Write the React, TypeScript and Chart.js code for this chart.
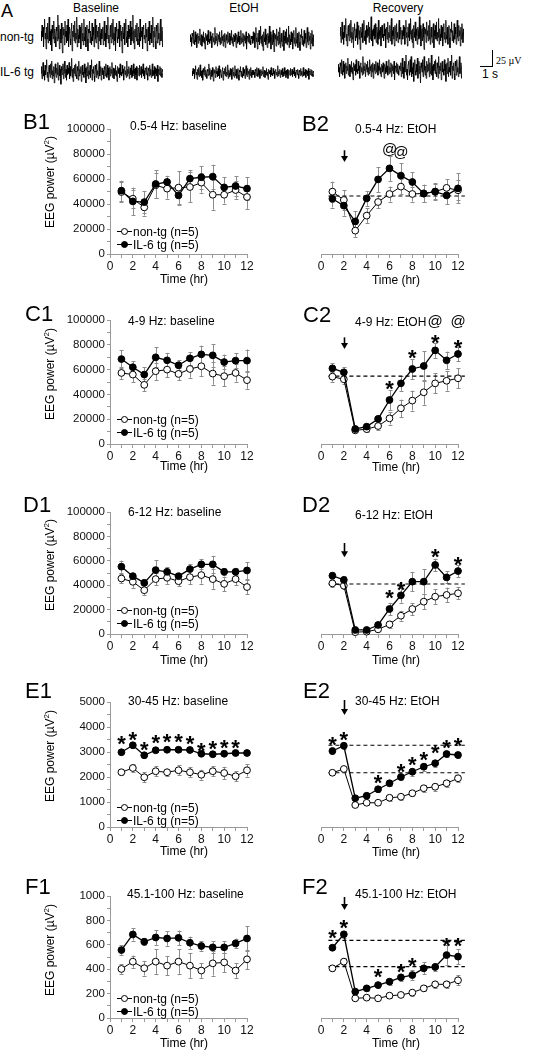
import React, { useEffect, useRef } from 'react';
import { Chart, registerables } from 'chart.js';

Chart.register(...registerables);

const FONT = '"Liberation Sans", Arial, Helvetica, sans-serif';
Chart.defaults.font.family = FONT;

// ---------- Data ----------
const hours = [1, 2, 3, 4, 5, 6, 7, 8, 9, 10, 11, 12];

// B: 0.5-4 Hz
const b1NonTg = [49600, 44200, 37300, 55000, 52300, 53100, 53600, 57100, 47400, 47400, 51200, 45600];
const b1NonTgErr = [8000, 7000, 6500, 10000, 8000, 13000, 12000, 8000, 12000, 7000, 7000, 9500];
const b1Tg = [50700, 42100, 41500, 56000, 57600, 46900, 60300, 61400, 61900, 53300, 54400, 52300];
const b1TgErr = [8000, 11000, 9000, 11000, 5000, 8000, 7000, 9000, 9500, 8000, 8000, 9000];

const b2NonTg = [49900, 43200, 18700, 30700, 41600, 48000, 53900, 48000, 48500, 49900, 52900, 51000];
const b2NonTgErr = [8000, 8000, 5000, 6000, 5000, 6000, 6000, 6000, 7000, 6000, 7000, 8000];
const b2Tg = [44200, 38700, 26100, 44500, 59700, 68500, 62700, 57600, 48300, 49900, 46900, 52500];
const b2TgErr = [7000, 8000, 8000, 6000, 10000, 10000, 10000, 8000, 7000, 7000, 7000, 12000];
const b2Dashed = [46400];
const b2Ats = [{ x: 6, y: 83000 }, { x: 7, y: 80600 }];

// C: 4-9 Hz
const c1NonTg = [57300, 56000, 47700, 58700, 60000, 56500, 60500, 62700, 56800, 54700, 57300, 51500];
const c1NonTgErr = [5000, 6000, 5000, 7000, 6000, 5000, 7000, 8000, 9000, 8000, 7000, 7000];
const c1Tg = [68500, 61900, 56000, 69900, 67500, 63500, 69100, 72300, 71500, 66100, 67200, 67200];
const c1TgErr = [7000, 5000, 6000, 8000, 6000, 4000, 5000, 7000, 9000, 6000, 6000, 9000];

const c2NonTg = [54300, 52200, 11000, 12000, 14500, 20700, 28800, 35000, 41700, 48900, 51000, 53000];
const c2NonTgErr = [4000, 4000, 1000, 2000, 3000, 5000, 7000, 8000, 10000, 8000, 8000, 8000];
const c2Tg = [61000, 57800, 12100, 14000, 20200, 35500, 48900, 60500, 62900, 75500, 67500, 72600];
const c2TgErr = [4000, 4000, 2000, 2000, 3000, 8000, 6000, 8000, 12000, 6000, 7000, 6000];
const c2Dashed = [54800];
const c2Stars = [{ x: 6, y: 49000 }, { x: 8, y: 74000 }, { x: 10, y: 86000 }, { x: 12, y: 82000 }];
const c2Ats = [{ x: 10, y: 98500 }, { x: 12, y: 98500 }];

// D: 6-12 Hz
const d1NonTg = [45500, 42800, 35900, 45000, 46100, 43300, 46600, 48300, 45000, 41100, 45000, 38500];
const d1NonTgErr = [4000, 5000, 4000, 5000, 5000, 4000, 6000, 7000, 8000, 6000, 5000, 6000];
const d1Tg = [55200, 47400, 41900, 52400, 51000, 47400, 53200, 57100, 57100, 51000, 51000, 52100];
const d1TgErr = [5000, 3000, 3000, 8000, 4000, 3000, 4000, 4000, 7000, 3000, 3000, 7000];

const d2NonTg = [41500, 39600, 1500, 1900, 3800, 7900, 15000, 20500, 26500, 30600, 32000, 33400];
const d2NonTgErr = [3000, 3000, 500, 1000, 1500, 3000, 4000, 5000, 6000, 6000, 6000, 5000];
const d2Tg = [47800, 44300, 3300, 3300, 7400, 20500, 31700, 42900, 42900, 56600, 46400, 51600];
const d2TgErr = [3000, 3000, 800, 800, 2500, 5000, 6000, 8000, 10000, 5000, 5000, 5000];
const d2Dashed = [41000];
const d2Stars = [{ x: 6, y: 33900 }, { x: 7, y: 40700 }, { x: 10, y: 67500 }, { x: 12, y: 61200 }];

// E: 30-45 Hz
const e1NonTg = [2190, 2360, 1990, 2230, 2190, 2270, 2190, 2090, 2230, 2160, 2030, 2270];
const e1NonTgErr = [100, 150, 200, 200, 150, 200, 200, 200, 200, 250, 200, 250];
const e1Tg = [2990, 3270, 2870, 3070, 3090, 3090, 3080, 2930, 2910, 2930, 2960, 2960];
const e1TgErr = [80, 100, 120, 80, 60, 80, 80, 60, 60, 60, 60, 60];
const e1Stars = [
  { x: 1, y: 3550 }, { x: 2, y: 3710 }, { x: 3, y: 3320 }, { x: 4, y: 3570 }, { x: 5, y: 3640 },
  { x: 6, y: 3610 }, { x: 7, y: 3550 }, { x: 8, y: 3280 }, { x: 9, y: 3350 }, { x: 10, y: 3370 }, { x: 11, y: 3370 },
];

const e2NonTg = [2170, 2320, 880, 970, 970, 1170, 1210, 1350, 1550, 1610, 1750, 1950];
const e2NonTgErr = [60, 100, 80, 100, 100, 120, 120, 120, 130, 150, 150, 150];
const e2Tg = [3040, 3250, 1150, 1250, 1510, 1750, 2000, 2210, 2410, 2550, 2920, 2880];
const e2TgErr = [120, 120, 80, 80, 100, 100, 120, 150, 150, 150, 120, 100];
const e2Dashed = [3270, 2170];
const e2Stars = [
  { x: 1, y: 3520 }, { x: 2, y: 3720 }, { x: 5, y: 2000 }, { x: 7, y: 2440 }, { x: 8, y: 2720 },
  { x: 9, y: 2920 }, { x: 10, y: 3200 }, { x: 11, y: 3400 }, { x: 12, y: 3480 },
];

// F: 45.1-100 Hz
const f1NonTg = [402, 462, 408, 462, 429, 462, 429, 389, 448, 456, 389, 481];
const f1NonTgErr = [40, 50, 60, 100, 80, 100, 100, 60, 100, 80, 60, 80];
const f1Tg = [557, 685, 625, 660, 652, 657, 617, 590, 579, 579, 611, 652];
const f1TgErr = [40, 50, 30, 60, 60, 60, 50, 40, 50, 50, 40, 100];

const f2NonTg = [407, 462, 161, 167, 161, 183, 189, 208, 243, 276, 276, 309];
const f2NonTgErr = [20, 30, 15, 15, 15, 20, 20, 25, 25, 30, 30, 40];
const f2Tg = [576, 686, 216, 243, 270, 298, 333, 352, 407, 418, 516, 503];
const f2TgErr = [20, 30, 15, 20, 20, 25, 30, 40, 50, 30, 80, 60];
const f2Dashed = [637, 421];
const f2Stars = [
  { x: 1, y: 697 }, { x: 2, y: 781 }, { x: 5, y: 380 }, { x: 7, y: 420 }, { x: 8, y: 475 }, { x: 11, y: 639 }, { x: 12, y: 639 },
];

// ethanol injection arrow (hr 2)
const arrowB2 = { x: 2, top: 83000, bottom: 73600 };
const arrowC2 = { x: 2, top: 86000, bottom: 76600 };
const arrowD2 = { x: 2, top: 74600, bottom: 63000 };
const arrowE2 = { x: 2, top: 5080, bottom: 4480 };
const arrowF2 = { x: 2, top: 992, bottom: 885 };

const dashRange = [0.65, 12.6];

// EEG sample traces (arbitrary units)
const eegA = [
  2, -3, 5, -1, 4, -6, 3, 8, -2, 1, -7, 4, -2, 6, -4, 0, 9, -3, 2, -5,
  3, -8, 5, 1, -2, 7, -4, 3, -1, -6, 4, 2, -3, 10, -2, 5, -7, 1, 3, -4,
  6, -2, -9, 4, 0, 3, -5, 7, -1, 2, -4, 5, -3, 8, -6, 1, 4, -2, -5, 3,
  6, -8, 2, -1, 5, -3, 7, -4, 1, -2, 9, -6, 3, 0, -4, 5, -2, 4, -7, 2,
  6, -3, 1, -5, 8, -1, -3, 4, -6, 2, 5, -2, -8, 3, 1, 7, -4, 2, -1, -5,
  6, -3, 4, 0, -6, 3, 8, -2, -4, 5, -1, 2, -7, 4, -3, 6, 1, -5, 3, -2,
];
const eegB = [
  -1, 4, -5, 2, 7, -3, 1, -6, 5, -2, 3, 9, -4, 0, -7, 3, 5, -1, -4, 6,
  -2, 8, -5, 1, -3, 4, -8, 2, 6, -1, -4, 3, -2, 7, -6, 0, 5, -3, 2, -9,
  4, 1, -2, 6, -5, 3, 8, -1, -4, 2, -6, 5, -2, 3, -1, 7, -5, 4, -3, 1,
  10, -4, 2, -7, 3, -1, 5, -3, 6, -2, -5, 4, 1, -6, 8, -3, 2, -1, 4, -7,
  3, 5, -2, 0, -4, 6, -1, 3, -8, 2, 4, -3, 7, -5, 1, -2, 5, -4, 3, 9,
  -6, 2, -1, 4, -3, -7, 5, 2, -4, 6, -2, 1, -5, 3, 8, -3, 0, 4, -6, 2,
];
const eegC = [
  3, -2, 1, -5, 4, 2, -3, 6, -1, -4, 5, -2, 3, -6, 1, 4, -3, 2, -1, 7,
  -4, 0, 3, -5, 2, -2, 5, -3, 1, -7, 4, 2, -1, 3, -4, 6, -2, 0, -3, 5,
  -1, 2, -6, 3, 4, -2, 1, -4, 8, -3, 2, -1, 4, -5, 0, 3, -2, 5, -4, 1,
  -3, 6, -1, 2, -5, 3, -2, 4, -6, 1, 3, -1, -3, 5, -2, 0, 4, -4, 2, -1,
  6, -3, 1, -5, 3, 2, -2, 4, -1, -6, 3, 1, -3, 5, -2, 2, -4, 0, 6, -3,
  1, -2, 4, -5, 3, -1, 2, -3, 5, -7, 2, 1, -2, 4, -3, 3, -1, -4, 2, 0,
];
const traceBaseNonTg = [...eegA, ...eegB];
const traceBaseTg = [...eegB, ...eegC];
const traceEtohNonTg = [...eegC, ...eegA];
const traceEtohTg = [...eegA, ...eegC];
const traceRecNonTg = [...eegB, ...eegA];
const traceRecTg = [...eegC, ...eegB];

const legendNonTg = 'non-tg (n=5)';
const legendTg = 'IL-6 tg (n=5)';

// ---------- Components ----------
type Pt = { x: number; y: number };
interface PanelSpec {
  side: 'L' | 'R';
  yTop: number;
  yBot: number;
  ymax: number;
  step: number;
  labelStep: number;
  nonTg: number[];
  nonTgErr: number[];
  tg: number[];
  tgErr: number[];
  dashed?: number[];
  stars?: Pt[];
  ats?: Pt[];
  arrow?: { x: number; top: number; bottom: number };
}

const PAD_TOP = 44;
const XAX_H = 28;

function Plot({ spec }: { spec: PanelSpec }) {
  const ref = useRef<HTMLCanvasElement>(null);
  const isL = spec.side === 'L';
  const left = isL ? 0 : 270;
  const width = isL ? 262 : 200;
  const padLeft = isL ? 0 : 51;
  const padRight = isL ? 15 : 12;
  const top = spec.yTop - PAD_TOP;
  const height = PAD_TOP + (spec.yBot - spec.yTop) + XAX_H;

  useEffect(() => {
    const canvas = ref.current!;
    const datasets: any[] = [
      {
        data: hours.map((h, i) => ({ x: h, y: spec.tg[i] })),
        borderColor: '#000',
        borderWidth: 1.3,
        pointRadius: 3.4,
        pointBackgroundColor: '#000',
        pointBorderColor: '#000',
        pointBorderWidth: 1,
        clip: false,
      },
      {
        data: hours.map((h, i) => ({ x: h, y: spec.nonTg[i] })),
        borderColor: '#000',
        borderWidth: 1,
        pointRadius: 3.4,
        pointBackgroundColor: '#fff',
        pointBorderColor: '#000',
        pointBorderWidth: 1,
        clip: false,
      },
    ];
    (spec.dashed || []).forEach((v) => {
      datasets.push({
        data: [
          { x: dashRange[0], y: v },
          { x: dashRange[1], y: v },
        ],
        borderColor: '#000',
        borderWidth: 1.2,
        borderDash: [4, 3],
        pointRadius: 0,
        clip: false,
      });
    });

    const extras = {
      id: 'extras',
      beforeDatasetsDraw(chart: any) {
        const ctx = chart.ctx;
        const xs = chart.scales.x;
        const ys = chart.scales.y;
        ctx.save();
        ctx.strokeStyle = '#8c8c8c';
        ctx.lineWidth = 1;
        const series: [number[], number[]][] = [
          [spec.tg, spec.tgErr],
          [spec.nonTg, spec.nonTgErr],
        ];
        series.forEach(([vals, errs]) => {
          vals.forEach((v, i) => {
            const x = Math.round(xs.getPixelForValue(hours[i])) + 0.5;
            const y1 = ys.getPixelForValue(v + errs[i]);
            const y2 = ys.getPixelForValue(v - errs[i]);
            ctx.beginPath();
            ctx.moveTo(x, y1);
            ctx.lineTo(x, y2);
            ctx.moveTo(x - 2, Math.round(y1) + 0.5);
            ctx.lineTo(x + 2, Math.round(y1) + 0.5);
            ctx.moveTo(x - 2, Math.round(y2) + 0.5);
            ctx.lineTo(x + 2, Math.round(y2) + 0.5);
            ctx.stroke();
          });
        });
        ctx.restore();
      },
      afterDraw(chart: any) {
        const ctx = chart.ctx;
        const xs = chart.scales.x;
        const ys = chart.scales.y;
        ctx.save();
        ctx.fillStyle = '#000';
        ctx.textAlign = 'center';
        if (spec.stars) {
          ctx.font = `bold 22px ${FONT}`;
          ctx.textBaseline = 'alphabetic';
          spec.stars.forEach((s) => {
            ctx.fillText('*', xs.getPixelForValue(s.x), ys.getPixelForValue(s.y) + 12.5);
          });
        }
        if (spec.ats) {
          ctx.font = `15px ${FONT}`;
          ctx.textBaseline = 'middle';
          spec.ats.forEach((s) => {
            ctx.fillText('@', xs.getPixelForValue(s.x), ys.getPixelForValue(s.y));
          });
        }
        if (spec.arrow) {
          const a = spec.arrow;
          const x = Math.round(xs.getPixelForValue(a.x)) + 0.5;
          const yt = ys.getPixelForValue(a.top);
          const yb = ys.getPixelForValue(a.bottom);
          ctx.strokeStyle = '#000';
          ctx.lineWidth = 1.6;
          ctx.beginPath();
          ctx.moveTo(x, yt);
          ctx.lineTo(x, yb - 5);
          ctx.stroke();
          ctx.beginPath();
          ctx.moveTo(x - 3.5, yb - 6);
          ctx.lineTo(x + 3.5, yb - 6);
          ctx.lineTo(x, yb);
          ctx.closePath();
          ctx.fill();
        }
        ctx.restore();
      },
    };

    const gridOpts = (len: number) => ({
      display: true,
      drawOnChartArea: false,
      drawTicks: true,
      tickLength: len,
      color: '#9a9a9a',
    });

    const chart = new Chart(canvas, {
      type: 'line',
      data: { datasets },
      options: {
        animation: false,
        responsive: false,
        devicePixelRatio: 1,
        layout: { padding: { top: PAD_TOP, left: padLeft, right: padRight, bottom: 0 } },
        plugins: { legend: { display: false }, tooltip: { enabled: false } },
        elements: { line: { tension: 0 } },
        scales: {
          x: {
            type: 'linear',
            min: 0,
            max: 12,
            afterFit: (s: any) => {
              s.height = XAX_H;
            },
            ticks: {
              stepSize: 1,
              autoSkip: false,
              maxRotation: 0,
              padding: 1,
              color: '#111',
              font: { size: 12, family: FONT },
              callback: (v: any) => (Number(v) % 2 === 0 ? String(v) : ''),
            },
            grid: gridOpts(4),
            border: { display: true, color: '#9a9a9a', width: 1 },
          },
          y: {
            type: 'linear',
            min: 0,
            max: spec.ymax,
            display: isL,
            afterFit: (s: any) => {
              s.width = isL ? 110 : 0;
            },
            ticks: {
              stepSize: spec.step,
              autoSkip: false,
              padding: 2,
              color: '#111',
              font: { size: 11.5, family: FONT },
              callback: (v: any) => (Number(v) % spec.labelStep === 0 ? String(v) : ''),
            },
            grid: gridOpts(3),
            border: { display: true, color: '#9a9a9a', width: 1 },
          },
        },
      } as any,
      plugins: [extras],
    });
    return () => chart.destroy();
  }, []);

  return (
    <canvas
      ref={ref}
      width={width}
      height={height}
      style={{ position: 'absolute', left, top, width, height }}
    />
  );
}

function Trace({
  data,
  left,
  top,
  width,
  height,
  range,
}: {
  data: number[];
  left: number;
  top: number;
  width: number;
  height: number;
  range: number;
}) {
  const ref = useRef<HTMLCanvasElement>(null);
  useEffect(() => {
    const chart = new Chart(ref.current!, {
      type: 'line',
      data: {
        labels: data.map((_, i) => i),
        datasets: [{ data, borderColor: '#000', borderWidth: 0.8, pointRadius: 0, tension: 0 }],
      },
      options: {
        animation: false,
        responsive: false,
        devicePixelRatio: 1,
        layout: { padding: 0 },
        plugins: { legend: { display: false }, tooltip: { enabled: false } },
        scales: {
          x: { display: false },
          y: { display: false, min: -range, max: range },
        },
      } as any,
    });
    return () => chart.destroy();
  }, []);
  return (
    <canvas ref={ref} width={width} height={height} style={{ position: 'absolute', left, top, width, height }} />
  );
}

function Txt({
  t,
  x,
  y,
  s = 12,
  c = false,
  rot = false,
  fam = FONT,
}: {
  t: React.ReactNode;
  x: number;
  y: number;
  s?: number;
  c?: boolean;
  rot?: boolean;
  fam?: string;
}) {
  let transform = 'translateY(-50%)';
  if (c) transform = 'translate(-50%, -50%)';
  if (rot) transform = 'translate(-50%, -50%) rotate(-90deg)';
  return (
    <div
      style={{
        position: 'absolute',
        left: x,
        top: y,
        transform,
        fontSize: s,
        lineHeight: 1,
        fontFamily: fam,
        whiteSpace: 'nowrap',
        color: '#000',
      }}
    >
      {t}
    </div>
  );
}

function LegendRow({ x, y, filled, text }: { x: number; y: number; filled: boolean; text: string }) {
  return (
    <>
      <div style={{ position: 'absolute', left: x, top: y, width: 15, borderTop: '1px solid #000' }} />
      <div
        style={{
          position: 'absolute',
          left: x + 4,
          top: y - 3,
          width: 7,
          height: 7,
          boxSizing: 'border-box',
          borderRadius: '50%',
          border: '1px solid #000',
          background: filled ? '#000' : '#fff',
        }}
      />
      <Txt t={text} x={x + 16} y={y + 1} s={12} />
    </>
  );
}

const panels: PanelSpec[] = [
  { side: 'L', yTop: 129, yBot: 254, ymax: 100000, step: 10000, labelStep: 20000, nonTg: b1NonTg, nonTgErr: b1NonTgErr, tg: b1Tg, tgErr: b1TgErr },
  { side: 'R', yTop: 129, yBot: 254, ymax: 100000, step: 10000, labelStep: 20000, nonTg: b2NonTg, nonTgErr: b2NonTgErr, tg: b2Tg, tgErr: b2TgErr, dashed: b2Dashed, ats: b2Ats, arrow: arrowB2 },
  { side: 'L', yTop: 320, yBot: 444, ymax: 100000, step: 10000, labelStep: 20000, nonTg: c1NonTg, nonTgErr: c1NonTgErr, tg: c1Tg, tgErr: c1TgErr },
  { side: 'R', yTop: 320, yBot: 444, ymax: 100000, step: 10000, labelStep: 20000, nonTg: c2NonTg, nonTgErr: c2NonTgErr, tg: c2Tg, tgErr: c2TgErr, dashed: c2Dashed, stars: c2Stars, ats: c2Ats, arrow: arrowC2 },
  { side: 'L', yTop: 512, yBot: 634, ymax: 100000, step: 10000, labelStep: 20000, nonTg: d1NonTg, nonTgErr: d1NonTgErr, tg: d1Tg, tgErr: d1TgErr },
  { side: 'R', yTop: 512, yBot: 634, ymax: 100000, step: 10000, labelStep: 20000, nonTg: d2NonTg, nonTgErr: d2NonTgErr, tg: d2Tg, tgErr: d2TgErr, dashed: d2Dashed, stars: d2Stars, arrow: arrowD2 },
  { side: 'L', yTop: 702, yBot: 827, ymax: 5000, step: 500, labelStep: 1000, nonTg: e1NonTg, nonTgErr: e1NonTgErr, tg: e1Tg, tgErr: e1TgErr, stars: e1Stars },
  { side: 'R', yTop: 702, yBot: 827, ymax: 5000, step: 500, labelStep: 1000, nonTg: e2NonTg, nonTgErr: e2NonTgErr, tg: e2Tg, tgErr: e2TgErr, dashed: e2Dashed, stars: e2Stars, arrow: arrowE2 },
  { side: 'L', yTop: 896, yBot: 1018, ymax: 1000, step: 100, labelStep: 200, nonTg: f1NonTg, nonTgErr: f1NonTgErr, tg: f1Tg, tgErr: f1TgErr },
  { side: 'R', yTop: 896, yBot: 1018, ymax: 1000, step: 100, labelStep: 200, nonTg: f2NonTg, nonTgErr: f2NonTgErr, tg: f2Tg, tgErr: f2TgErr, dashed: f2Dashed, stars: f2Stars, arrow: arrowF2 },
];

const letters = [
  { t: 'B1', x: 23, y: 122 }, { t: 'B2', x: 302, y: 124 },
  { t: 'C1', x: 25, y: 314 }, { t: 'C2', x: 303, y: 315 },
  { t: 'D1', x: 23, y: 505 }, { t: 'D2', x: 302, y: 505 },
  { t: 'E1', x: 25, y: 691 }, { t: 'E2', x: 303, y: 691 },
  { t: 'F1', x: 25, y: 887 }, { t: 'F2', x: 302, y: 887 },
];

const titles = [
  { t: '0.5-4 Hz: baseline', x: 130, y: 126 }, { t: '0.5-4 Hz: EtOH', x: 355, y: 129 },
  { t: '4-9 Hz: baseline', x: 128, y: 321 }, { t: '4-9 Hz: EtOH', x: 355, y: 322 },
  { t: '6-12 Hz: baseline', x: 128, y: 512 }, { t: '6-12 Hz: EtOH', x: 355, y: 515 },
  { t: '30-45 Hz: baseline', x: 128, y: 701 }, { t: '30-45 Hz: EtOH', x: 355, y: 701 },
  { t: '45.1-100 Hz: baseline', x: 127, y: 894 }, { t: '45.1-100 Hz: EtOH', x: 355, y: 894 },
];

const timeLabels = [
  { x: 184, y: 279 }, { x: 396, y: 280 },
  { x: 184, y: 466 }, { x: 396, y: 467 },
  { x: 184, y: 660 }, { x: 396, y: 660 },
  { x: 184, y: 851 }, { x: 396, y: 852 },
  { x: 184, y: 1043 }, { x: 396, y: 1043 },
];

const yTitleRows = [182, 374, 565, 756, 950];
const legendRows = [231, 419, 610, 807, 998];

export default function App() {
  return (
    <div
      style={{
        position: 'absolute',
        left: 0,
        top: 0,
        width: 547,
        height: 1050,
        background: '#fff',
        overflow: 'hidden',
        fontFamily: FONT,
      }}
    >
      {/* Panel A */}
      <Txt t="A" x={1} y={11} s={18} />
      <Txt t="Baseline" x={96} y={8} c />
      <Txt t="EtOH" x={244} y={8} c />
      <Txt t="Recovery" x={398} y={8} c />
      <Txt t="non-tg" x={0} y={37} />
      <Txt t="IL-6 tg" x={0} y={72} />
      <Trace data={traceBaseNonTg} left={41} top={13} width={122} height={44} range={11} />
      <Trace data={traceBaseTg} left={41} top={57} width={122} height={30} range={11} />
      <Trace data={traceEtohNonTg} left={190} top={26} width={124} height={26} range={9} />
      <Trace data={traceEtohTg} left={192} top={63} width={122} height={20} range={11} />
      <Trace data={traceRecNonTg} left={340} top={15} width={124} height={38} range={11} />
      <Trace data={traceRecTg} left={338} top={55} width={124} height={28} range={9} />
      <div style={{ position: 'absolute', left: 492, top: 50, height: 17, borderLeft: '1px solid #000' }} />
      <div style={{ position: 'absolute', left: 480, top: 66, width: 13, borderTop: '1px solid #000' }} />
      <Txt t="25 µV" x={496} y={61} s={10} fam='"Liberation Serif", "DejaVu Serif", serif' />
      <Txt t="1 s" x={482} y={74} s={12} />

      {panels.map((p, i) => (
        <Plot key={i} spec={p} />
      ))}

      {letters.map((l) => (
        <Txt key={l.t} t={l.t} x={l.x} y={l.y} s={22} />
      ))}
      {titles.map((l) => (
        <Txt key={l.t} t={l.t} x={l.x} y={l.y} s={12} />
      ))}
      {timeLabels.map((l, i) => (
        <Txt key={'time' + i} t="Time (hr)" x={l.x} y={l.y} s={12} c />
      ))}
      {yTitleRows.map((y, i) => (
        <Txt key={'yt' + i} t={<span>EEG power (µV<sup style={{ fontSize: 8 }}>2</sup>)</span>} x={49} y={y} s={12} rot />
      ))}
      {legendRows.map((y, i) => (
        <React.Fragment key={'lg' + i}>
          <LegendRow x={117} y={y} filled={false} text={legendNonTg} />
          <LegendRow x={117} y={y + 12.5} filled text={legendTg} />
        </React.Fragment>
      ))}
    </div>
  );
}
